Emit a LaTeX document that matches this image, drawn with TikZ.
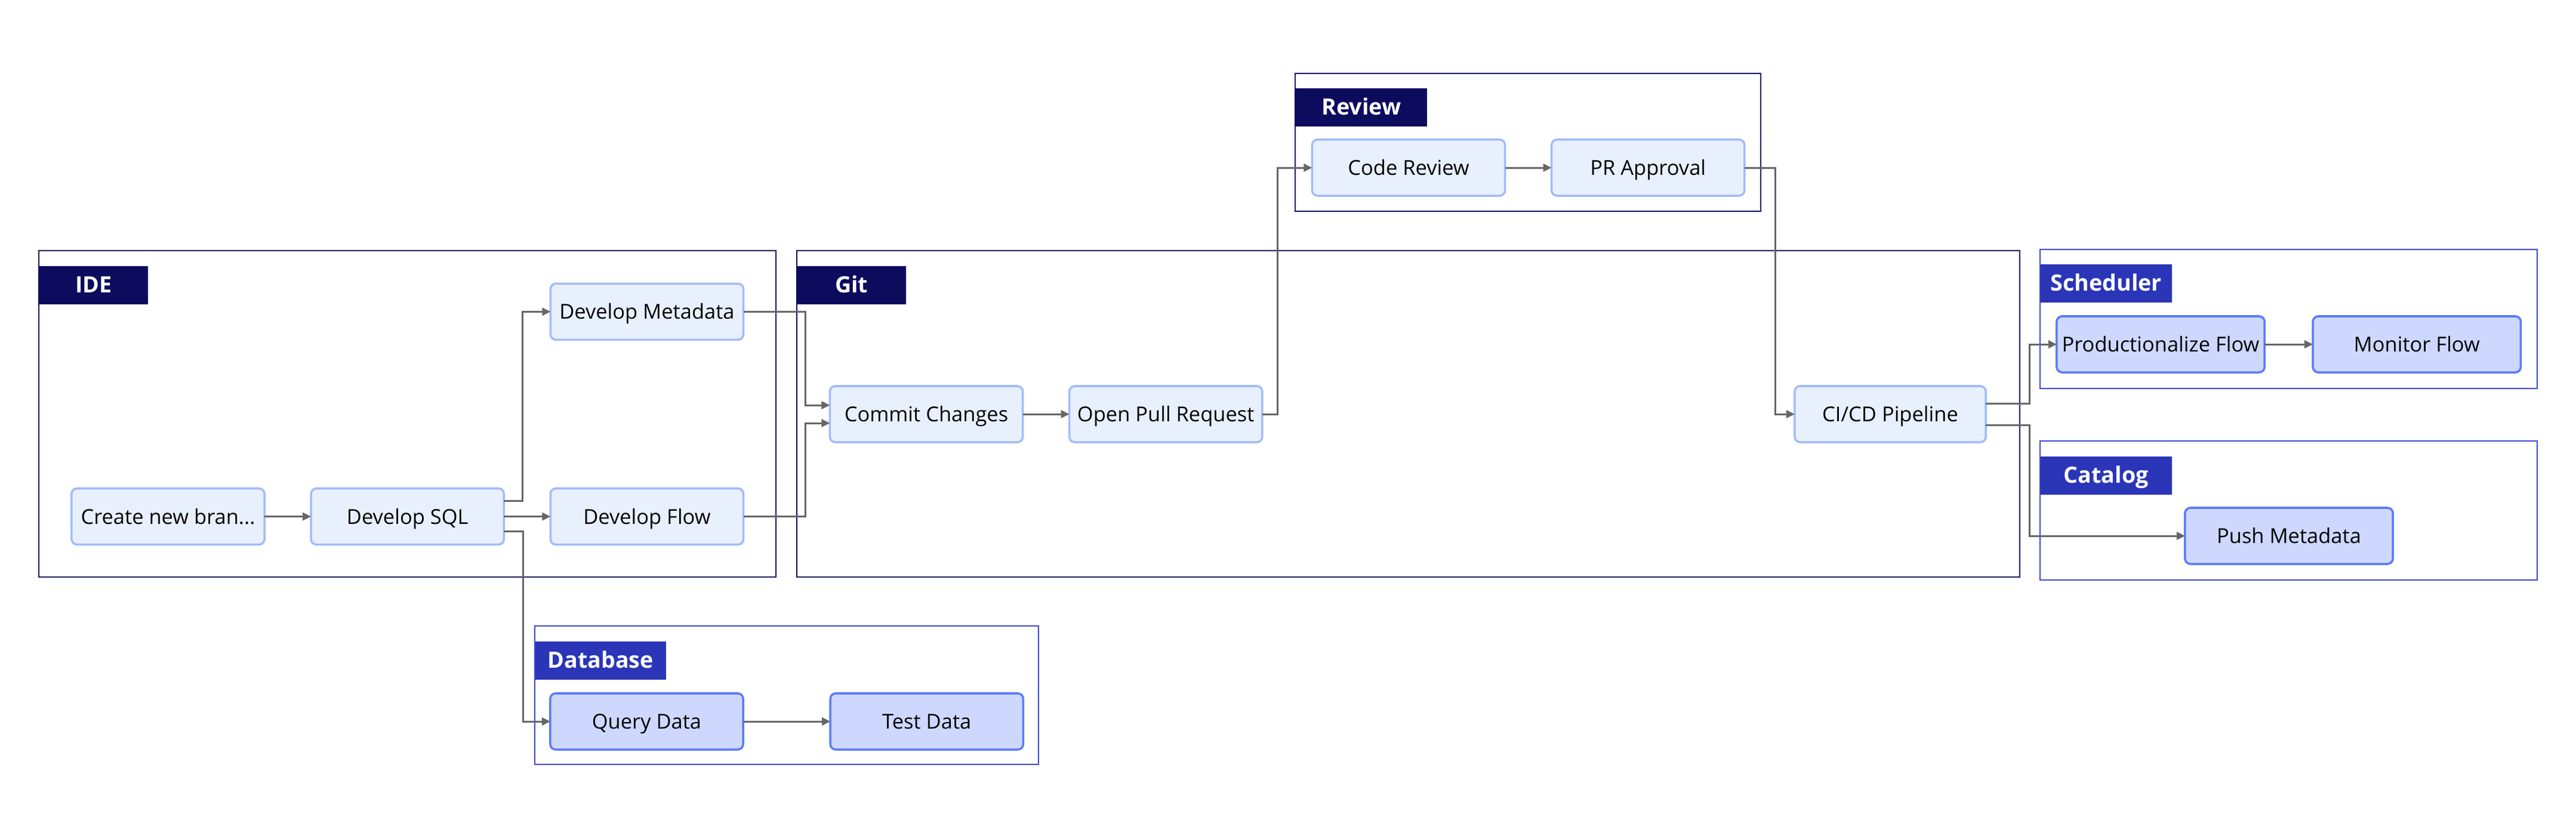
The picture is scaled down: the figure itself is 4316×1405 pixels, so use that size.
\documentclass[tikz,border=0pt]{standalone}
\usepackage{fontspec}
\setmainfont{Open Sans}
\usetikzlibrary{positioning,arrows.meta}
\definecolor{navy}{HTML}{0C0B5E}
\definecolor{royal}{HTML}{2A35B8}
\definecolor{royalline}{HTML}{3E49CC}
\definecolor{stepfill}{HTML}{E8F0FE}
\definecolor{stepline}{HTML}{A1BCFA}
\definecolor{taskfill}{HTML}{CED8FF}
\definecolor{taskline}{HTML}{5B7CF8}
\definecolor{wire}{HTML}{666666}

\begin{document}
\begin{tikzpicture}[x=0.01cm, y=-0.01cm, node distance=0.78cm,
  stepbox/.style={draw=stepline, fill=stepfill, line width=1pt, rounded corners=0.09cm,
    minimum width=3.23cm, minimum height=0.94cm, inner sep=0pt, outer sep=0pt,
    text height=0.92em, text depth=0.206em, font=\fontsize{9.8}{11}\selectfont},
  taskbox/.style={stepbox, draw=taskline, fill=taskfill},
  group/.style={draw=navy, line width=0.7pt},
  subgroup/.style={draw=royalline, line width=0.7pt},
  tag/.style={fill=navy, text=white, anchor=north west, minimum height=0.64cm, minimum width=1.82cm,
    inner sep=0pt, text height=0.92em, text depth=0.206em, font=\fontsize{10.7}{12}\selectfont\bfseries},
  subtag/.style={tag, fill=royal, minimum width=2.2cm},
  link/.style={draw=wire, line width=0.85pt, -{Triangle[length=0.14cm,width=0.13cm]}}]
  \useasboundingbox (0,0) rectangle (4316,1405);

  % groups
  \draw[group] (65,420) rectangle (1300,967);
  \node[tag] (ideTag) at (65,445) {IDE};
  \draw[group] (1335,420) rectangle (3384,967);
  \node[tag] (gitTag) at (1335,445) {Git};
  \draw[group] (2170,123) rectangle (2950,354);
  \node[tag, minimum width=2.2cm] (reviewTag) at (2170,147) {Review};
  \draw[subgroup] (3418,418) rectangle (4251,651);
  \node[subtag] (schedTag) at (3418,442) {Scheduler};
  \draw[subgroup] (3418,739) rectangle (4251,972);
  \node[subtag] (catTag) at (3418,764) {Catalog};
  \draw[subgroup] (896,1049) rectangle (1740,1281);
  \node[subtag, minimum width=2.19cm] (dbTag) at (896,1074) {Database};

  % steps
  \node[stepbox] (create) at (281.5,865.5) {Create new bran...};
  \node[stepbox, right=of create] (sql) {Develop SQL};
  \node[stepbox, right=of sql] (flow) {Develop Flow};
  \node[stepbox, above=2.49cm of flow] (meta) {Develop Metadata};
  \node[stepbox] (commit) at (1552,694) {Commit Changes};
  \node[stepbox, right=of commit] (pull) {Open Pull Request};
  \node[stepbox] (code) at (2360,281) {Code Review};
  \node[stepbox, right=of code] (approve) {PR Approval};
  \node[stepbox, minimum width=3.2cm] (cicd) at (3167,694) {CI/CD Pipeline};
  \node[taskbox, minimum width=3.48cm] (prod) at (3620,577) {Productionalize Flow};
  \node[taskbox, minimum width=3.48cm, right=0.81cm of prod] (monitor) {Monitor Flow};
  \node[taskbox, minimum width=3.48cm] (push) at (3835,898) {Push Metadata};
  \node[taskbox] (query) at (1083.5,1209) {Query Data};
  \node[taskbox, right=1.46cm of query] (test) {Test Data};

  % links
  \draw[link] (create) -- (sql);
  \draw[link] (sql) -- (flow);
  \draw[link] ([yshift=0.26cm]sql.east) -- ++(31,0) |- (meta.west);
  \draw[link] ([yshift=-0.25cm]sql.east) -- ++(32,0) |- (query.west);
  \draw[link] (meta.east) -- ++(104,0) |- ([yshift=0.15cm]commit.west);
  \draw[link] (flow.east) -- ++(104,0) |- ([yshift=-0.15cm]commit.west);
  \draw[link] (commit) -- (pull);
  \draw[link] (pull.east) -- ++(26,0) |- (code.west);
  \draw[link] (code) -- (approve);
  \draw[link] (approve.east) -- ++(52,0) |- (cicd.west);
  \draw[link] ([yshift=0.18cm]cicd.east) -- ++(73,0) |- (prod.west);
  \draw[link] ([yshift=-0.18cm]cicd.east) -- ++(73,0) |- (push.west);
  \draw[link] (prod) -- (monitor);
  \draw[link] (query) -- (test);
\end{tikzpicture}
\end{document}
